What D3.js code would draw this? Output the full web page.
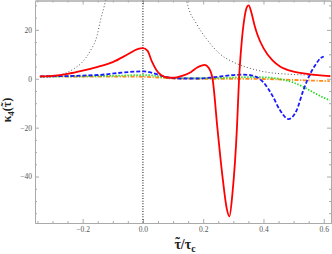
<!DOCTYPE html>
<html>
<head>
<meta charset="utf-8">
<script src="https://cdn.jsdelivr.net/npm/d3@7"></script>
<style>
  body { margin: 0; background: #fff; }
  svg { display: block; }
  .tick text { font-family: "Liberation Serif", "DejaVu Serif", serif; font-size: 7.5px; fill: #555; }
  .axis path, .axis line { stroke: #aaa; }
</style>
</head>
<body>
<div id="chart"></div>
<script>
// kappa_4 curves
const redX   = [-0.34, -0.3, -0.25, -0.2, -0.15, -0.1, -0.05, -0.02, 0.0, 0.015, 0.03, 0.045, 0.06, 0.08, 0.1, 0.13, 0.16, 0.18, 0.205, 0.218, 0.231, 0.247, 0.264, 0.278, 0.287, 0.297, 0.312, 0.319, 0.327, 0.337, 0.345, 0.351, 0.36, 0.37, 0.38, 0.4, 0.43, 0.455, 0.5, 0.55, 0.62];
const redY   = [1.0, 1.2, 2.0, 3.3, 4.9, 6.8, 10.0, 12.0, 12.5, 11.5, 7.0, 3.5, 1.5, 0.5, 0.4, 1.2, 2.8, 4.6, 5.7, 4.5, 0.0, -20, -40, -53, -56.3, -47, -20, 0, 14, 25, 29.3, 30, 27, 22, 18, 12.5, 7.5, 5.0, 2.9, 1.9, 1.1];

const blueX  = [-0.34, -0.25, -0.2, -0.14, -0.085, -0.03, 0.005, 0.025, 0.045, 0.06, 0.09, 0.12, 0.18, 0.24, 0.3, 0.33, 0.36, 0.38, 0.4, 0.43, 0.455, 0.483, 0.51, 0.532, 0.555, 0.575, 0.59, 0.6];
const blueY  = [1.0, 1.1, 1.3, 1.6, 2.3, 2.9, 3.0, 2.6, 1.9, 1.3, 0.4, 0.1, 0.1, 0.7, 1.5, 1.7, 1.4, 0.5, -1.5, -7, -12.9, -16.5, -12.9, -4.8, 2.0, 6.2, 8.5, 9.1];

const greenX = [-0.34, -0.2, -0.1, 0.0, 0.03, 0.06, 0.1, 0.2, 0.3, 0.35, 0.4, 0.45, 0.48, 0.5, 0.53, 0.56, 0.59, 0.62];
const greenY = [0.9, 1.0, 1.2, 1.5, 1.4, 0.8, 0.3, 0.2, 0.5, 0.7, 0.6, 0.0, -0.8, -1.6, -3.2, -5.2, -7.2, -8.8];

const orangeX = [-0.34, -0.2, -0.1, 0.0, 0.05, 0.1, 0.2, 0.3, 0.4, 0.5, 0.55, 0.62];
const orangeY = [1.0, 0.9, 0.9, 0.8, 0.5, 0.1, 0.0, 0.0, -0.1, -0.5, -0.7, -1.0];

// thin gray reference curve, two branches around a pole
const grayLeftX  = [-0.34, -0.296, -0.263, -0.23, -0.196, -0.174, -0.152, -0.141, -0.124, -0.115];
const grayLeftY  = [0.6, 0.9, 2.0, 4.0, 7.5, 11.5, 17.7, 23.8, 32, 38];
const grayRightX = [0.138, 0.145, 0.178, 0.211, 0.255, 0.3, 0.344, 0.41, 0.477, 0.55, 0.62];
const grayRightY = [38, 32, 22.4, 16.3, 10.2, 6.8, 4.7, 2.7, 1.9, 1.5, 1.3];

const xMajor = [-0.2, 0.0, 0.2, 0.4, 0.6];
const xMinor = [-0.35, -0.3, -0.25, -0.15, -0.1, -0.05, 0.05, 0.1, 0.15, 0.25, 0.3, 0.35, 0.45, 0.5, 0.55];
const yMajor = [-40, -20, 0, 20];
const yMinor = [-55, -50, -45, -35, -30, -25, -15, -10, -5, 5, 10, 15, 25, 30];

const W = 332, H = 254;
const pLeft = 35, pRight = 331, pTop = 0.5, pBottom = 223;

const svg = d3.select('#chart').append('svg')
    .attr('width', W)
    .attr('height', H);

const x = d3.scaleLinear().domain([-0.358, 0.624]).range([pLeft, pRight]);
const y = d3.scaleLinear().domain([-59, 32]).range([pBottom, pTop]);

svg.append('defs').append('clipPath').attr('id', 'clip')
    .append('rect')
    .attr('x', pLeft).attr('y', pTop)
    .attr('width', pRight - pLeft).attr('height', pBottom - pTop);

const fmtX = d => d === 0 ? '0.0' : d3.format('.1f')(d).replace('-', '\u2212');
const fmtY = d => String(d).replace('-', '\u2212');

// frame with inward ticks on all sides
function frame(axis, tr) {
    const g = svg.append('g').attr('class', 'axis').attr('transform', tr).call(axis);
    g.select('.domain').attr('stroke', '#aaa');
    return g;
}
frame(d3.axisBottom(x).tickValues(xMajor).tickSizeInner(-4).tickSizeOuter(0).tickPadding(4).tickFormat(fmtX), `translate(0,${pBottom})`);
frame(d3.axisBottom(x).tickValues(xMinor).tickSizeInner(-2).tickSizeOuter(0).tickFormat(''), `translate(0,${pBottom})`);
frame(d3.axisTop(x).tickValues(xMajor).tickSizeInner(-4).tickSizeOuter(0).tickFormat(''), `translate(0,${pTop})`);
frame(d3.axisTop(x).tickValues(xMinor).tickSizeInner(-2).tickSizeOuter(0).tickFormat(''), `translate(0,${pTop})`);
frame(d3.axisLeft(y).tickValues(yMajor).tickSizeInner(-4).tickSizeOuter(0).tickPadding(3).tickFormat(fmtY), `translate(${pLeft},0)`);
frame(d3.axisLeft(y).tickValues(yMinor).tickSizeInner(-2).tickSizeOuter(0).tickFormat(''), `translate(${pLeft},0)`);
frame(d3.axisRight(y).tickValues(yMajor).tickSizeInner(-4).tickSizeOuter(0).tickFormat(''), `translate(${pRight},0)`);
frame(d3.axisRight(y).tickValues(yMinor).tickSizeInner(-2).tickSizeOuter(0).tickFormat(''), `translate(${pRight},0)`);

const plot = svg.append('g').attr('clip-path', 'url(#clip)');

// vertical dotted line at tau = 0
plot.append('line')
    .attr('x1', x(0)).attr('x2', x(0))
    .attr('y1', y(32)).attr('y2', y(-59))
    .attr('stroke', '#333')
    .attr('stroke-width', 1.2)
    .attr('stroke-dasharray', '1,1.6');

const line = d3.line()
    .x(d => x(d[0]))
    .y(d => y(d[1]))
    .curve(d3.curveMonotoneX);

const zip = (a, b) => a.map((v, i) => [v, b[i]]);

function drawCurve(xs, ys, color, width, dash, cap) {
    plot.append('path')
        .datum(zip(xs, ys))
        .attr('d', line)
        .attr('fill', 'none')
        .attr('stroke', color)
        .attr('stroke-width', width)
        .attr('stroke-dasharray', dash)
        .attr('stroke-linecap', cap || 'butt');
}

drawCurve(grayLeftX, grayLeftY, '#555', 1, '1,2.2', 'butt');
drawCurve(grayRightX, grayRightY, '#555', 1, '1,2.2', 'butt');
drawCurve(orangeX, orangeY, '#ff8c1a', 1.8, '4,1.5,1.2,1.5');
drawCurve(greenX, greenY, '#22dd22', 1.8, '1.4,1.6');
drawCurve(blueX, blueY, '#1a1aff', 1.8, '4,2');
drawCurve(redX, redY, '#ff0000', 1.8, null, 'round');

// axis titles
const serif = '"Liberation Serif", "DejaVu Serif", serif';

// tau with a tilde laid over it
function tildeTau(txt, size) {
    const tau = txt.append('tspan').text('\u03c4');
    const tl = txt.append('tspan').attr('dy', -size * 0.12).text('\u02dc');
    const a = tau.node().getComputedTextLength();
    const b = tl.node().getComputedTextLength();
    tl.attr('dx', -(a + b) / 2);
    return { dx: (a - b) / 2, dy: size * 0.12 };
}

const yt = svg.append('text')
    .attr('transform', 'translate(11,110) rotate(-90)')
    .attr('text-anchor', 'middle')
    .attr('font-family', serif)
    .attr('font-weight', 'bold')
    .attr('font-size', 12)
    .attr('fill', '#222');
yt.append('tspan').text('\u03ba');
yt.append('tspan').attr('dy', 3).attr('font-size', 9).text('4');
yt.append('tspan').attr('dy', -3).text('(');
const yk = tildeTau(yt, 12);
yt.append('tspan').attr('dx', yk.dx).attr('dy', yk.dy).text(')');

const xt = svg.append('text')
    .attr('x', 185).attr('y', 249)
    .attr('text-anchor', 'middle')
    .attr('font-family', serif)
    .attr('font-weight', 'bold')
    .attr('font-size', 14)
    .attr('fill', '#222');
const xk = tildeTau(xt, 14);
xt.append('tspan').attr('dx', xk.dx).attr('dy', xk.dy).text('/\u03c4');
xt.append('tspan').attr('dy', 3).attr('font-size', 10).text('c');
</script>
</body>
</html>
